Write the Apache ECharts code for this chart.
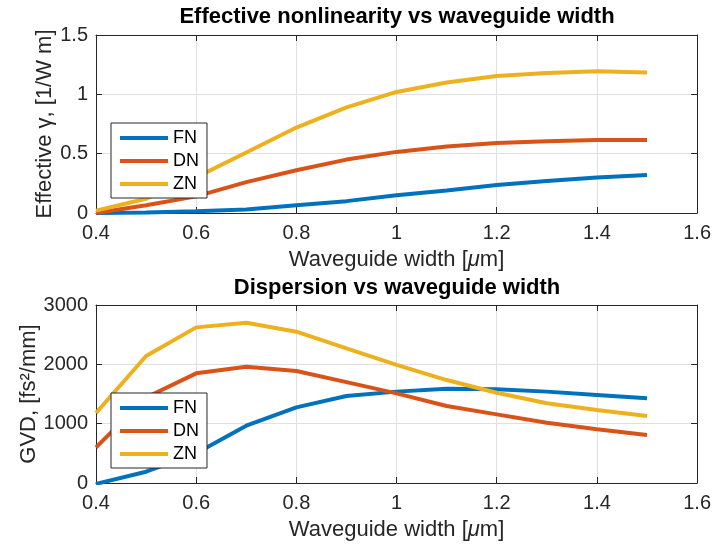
<!DOCTYPE html>
<html>
<head>
<meta charset="utf-8">
<script src="https://cdn.jsdelivr.net/npm/echarts@6/dist/echarts.min.js"></script>
<style>
  html, body { margin: 0; padding: 0; background: #fff; }
  #main { width: 714px; height: 547px; }
</style>
</head>
<body>
<div id="main"></div>
<script>
// waveguide widths [um]
var widths = [0.4, 0.5, 0.6, 0.7, 0.8, 0.9, 1.0, 1.1, 1.2, 1.3, 1.4, 1.5];

// effective nonlinearity [1/W m]
var gammaFN = [0, 0.005, 0.015, 0.03, 0.065, 0.10, 0.15, 0.19, 0.235, 0.27, 0.30, 0.32];
var gammaDN = [0, 0.065, 0.14, 0.26, 0.36, 0.45, 0.515, 0.56, 0.59, 0.605, 0.615, 0.615];
var gammaZN = [0.02, 0.12, 0.30, 0.51, 0.72, 0.89, 1.02, 1.10, 1.155, 1.18, 1.195, 1.185];

// GVD [fs^2/mm]
var gvdFN = [-15, 190, 500, 966, 1275, 1466, 1540, 1590, 1580, 1540, 1483, 1427];
var gvdDN = [600, 1440, 1848, 1960, 1887, 1700, 1510, 1297, 1157, 1016, 905, 809];
var gvdZN = [1180, 2140, 2623, 2701, 2550, 2270, 1990, 1735, 1521, 1343, 1230, 1129];

var names = ['FN', 'DN', 'ZN'];
var colors = ['#0072BD', '#D95319', '#EDB120'];
var font = "'Liberation Sans', Arial, Helvetica, sans-serif";
var ink = '#262626';

function pairs(ys) {
  return widths.map(function (x, i) { return [x, ys[i]]; });
}

function xAxisMain(grid) {
  return {
    type: 'value', gridIndex: grid, position: 'bottom',
    min: 0.4, max: 1.6, interval: 0.2,
    name: 'Waveguide width [{i|μ}m]', nameLocation: 'middle', nameGap: 36,
    nameMoveOverlap: false,
    nameTextStyle: { fontFamily: font, fontSize: 22, color: ink,
      rich: { i: { fontFamily: font, fontSize: 22, color: ink, fontStyle: 'italic' } } },
    axisLine: { show: true, onZero: false, lineStyle: { color: ink } },
    axisTick: { inside: true, length: 6, lineStyle: { color: ink } },
    axisLabel: { fontFamily: font, fontSize: 20, color: ink, margin: 10 },
    splitLine: { show: true, lineStyle: { color: '#e0e0e0' } }
  };
}
function xAxisTop(grid) {
  return {
    type: 'value', gridIndex: grid, position: 'top',
    min: 0.4, max: 1.6, interval: 0.2,
    axisLine: { show: true, onZero: false, lineStyle: { color: ink } },
    axisTick: { inside: true, length: 6, lineStyle: { color: ink } },
    axisLabel: { show: false }, splitLine: { show: false }
  };
}
function yAxisMain(grid, max, interval, name, gap) {
  return {
    type: 'value', gridIndex: grid, position: 'left',
    min: 0, max: max, interval: interval,
    name: name, nameLocation: 'middle', nameGap: gap,
    nameMoveOverlap: false,
    nameTextStyle: { fontFamily: font, fontSize: 22, color: ink },
    axisLine: { show: true, onZero: false, lineStyle: { color: ink } },
    axisTick: { inside: true, length: 6, lineStyle: { color: ink } },
    axisLabel: { fontFamily: font, fontSize: 20, color: ink, margin: 8,
      formatter: function (v) { return String(v); } },
    splitLine: { show: true, lineStyle: { color: '#e0e0e0' } }
  };
}
function yAxisRight(grid, max, interval) {
  return {
    type: 'value', gridIndex: grid, position: 'right',
    min: 0, max: max, interval: interval,
    axisLine: { show: true, onZero: false, lineStyle: { color: ink } },
    axisTick: { inside: true, length: 6, lineStyle: { color: ink } },
    axisLabel: { show: false }, splitLine: { show: false }
  };
}
function legendAt(top) {
  return {
    orient: 'vertical', left: 111, top: top,
    data: names, icon: 'rect', itemWidth: 48, itemHeight: 4, itemGap: 5,
    padding: [6, 8, 5, 9],
    backgroundColor: '#fff', borderColor: ink, borderWidth: 1,
    textStyle: { fontFamily: font, fontSize: 18, color: '#000' },
    selectedMode: false
  };
}
function lineSeries(i, xi, ys) {
  return {
    name: names[i], type: 'line', xAxisIndex: xi, yAxisIndex: xi,
    data: pairs(ys), showSymbol: false, symbol: 'none', clip: true,
    color: colors[i], lineStyle: { width: 4, color: colors[i] },
    animation: false
  };
}

var chart = echarts.init(document.getElementById('main'), null, { renderer: 'canvas' });
chart.setOption({
  backgroundColor: '#fff',
  animation: false,
  title: [
    { text: 'Effective nonlinearity vs waveguide width', left: 397, top: 6, textAlign: 'center', padding: 0,
      textStyle: { fontFamily: font, fontSize: 22, fontWeight: 'bold', color: '#000' } },
    { text: 'Dispersion vs waveguide width', left: 397, top: 277, textAlign: 'center', padding: 0,
      textStyle: { fontFamily: font, fontSize: 22, fontWeight: 'bold', color: '#000' } }
  ],
  grid: [
    { left: 96, top: 35, width: 602, height: 178 },
    { left: 96, top: 305, width: 602, height: 178 }
  ],
  xAxis: [xAxisMain(0), xAxisMain(1), xAxisTop(0), xAxisTop(1)],
  yAxis: [
    yAxisMain(0, 1.5, 0.5, 'Effective γ, [1/W m]', 40),
    yAxisMain(1, 3000, 1000, 'GVD, [fs²/mm]', 56),
    yAxisRight(0, 1.5, 0.5),
    yAxisRight(1, 3000, 1000)
  ],
  legend: [legendAt(123), legendAt(393)],
  series: [
    lineSeries(0, 0, gammaFN),
    lineSeries(1, 0, gammaDN),
    lineSeries(2, 0, gammaZN),
    lineSeries(0, 1, gvdFN),
    lineSeries(1, 1, gvdDN),
    lineSeries(2, 1, gvdZN)
  ]
});
</script>
</body>
</html>
